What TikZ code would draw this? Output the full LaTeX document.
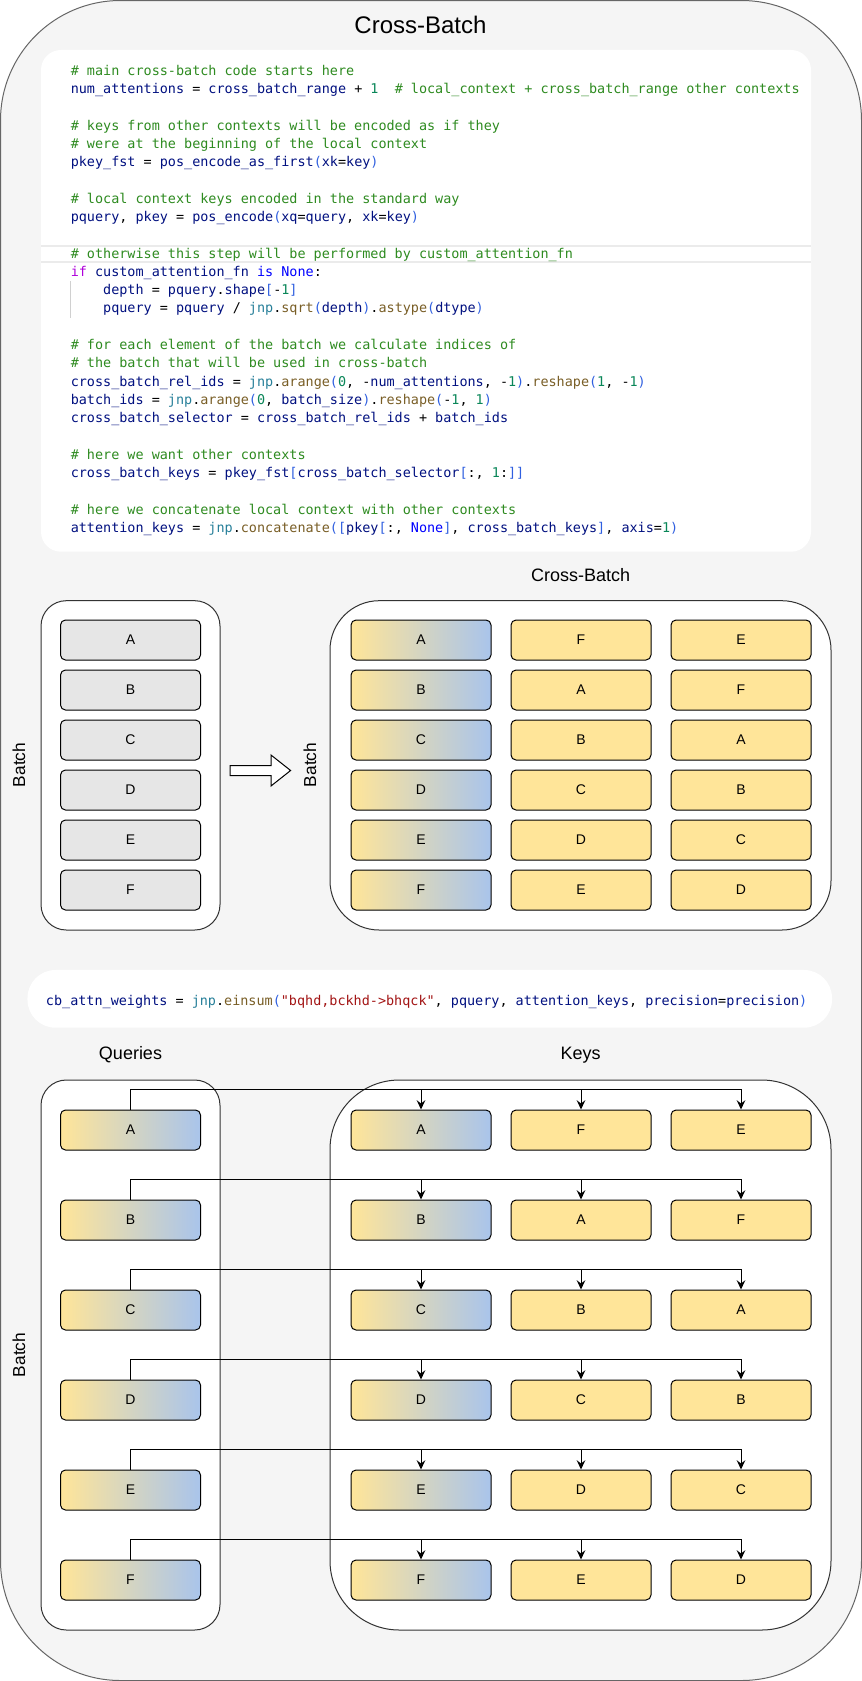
\documentclass[tikz,border=0pt]{standalone}
\usepackage{fontspec}
\setmainfont{Liberation Sans}
\setmonofont{DejaVu Sans Mono}
\usetikzlibrary{arrows.meta}
\definecolor{outerfill}{HTML}{F5F5F5}
\definecolor{outerdraw}{HTML}{666666}
\definecolor{contdraw}{HTML}{333333}
\definecolor{grayfill}{HTML}{E6E6E6}
\definecolor{yel}{HTML}{FFE599}
\definecolor{blu}{HTML}{A9C4EB}
\definecolor{cmt}{HTML}{2E8B20}
\definecolor{var}{HTML}{001080}
\definecolor{fun}{HTML}{795E26}
\definecolor{num}{HTML}{098658}
\definecolor{kwd}{HTML}{AF00DB}
\definecolor{bltn}{HTML}{0000FF}
\definecolor{jnpc}{HTML}{267F99}
\definecolor{strc}{HTML}{A31515}
\definecolor{brk}{HTML}{2F5FE0}
\definecolor{bandc}{HTML}{EBEBEB}
\definecolor{guidec}{HTML}{D0D0D0}
\newcommand\cC[1]{\textcolor{cmt}{#1}}
\newcommand\cV[1]{\textcolor{var}{#1}}
\newcommand\cF[1]{\textcolor{fun}{#1}}
\newcommand\cN[1]{\textcolor{num}{#1}}
\newcommand\cK[1]{\textcolor{kwd}{#1}}
\newcommand\cB[1]{\textcolor{bltn}{#1}}
\newcommand\cJ[1]{\textcolor{jnpc}{#1}}
\newcommand\cS[1]{\textcolor{strc}{#1}}
\newcommand\cP[1]{\textcolor{brk}{#1}}
\tikzset{
  item/.style={draw=black, line width=0.75pt, rounded corners=3.75pt,
    minimum width=105pt, minimum height=30pt, inner sep=0pt,
    font=\fontsize{10.5}{12}\selectfont},
  grayitem/.style={item, fill=grayfill},
  yitem/.style={item, fill=yel},
  gitem/.style={item, left color=yel, right color=blu},
  cont/.style={draw=contdraw, fill=white, line width=0.75pt, inner sep=0pt},
  lbl/.style={inner sep=0pt, font=\fontsize{13.5}{16}\selectfont},
  batchlbl/.style={inner sep=0pt, rotate=90, font=\fontsize{13}{15}\selectfont},
  codeline/.style={anchor=base west, inner sep=0pt, font=\ttfamily\fontsize{10.09}{12}\selectfont},
  arr/.style={draw=black, line width=0.75pt, -{Stealth[length=7pt,width=6.5pt,inset=2.5pt]}},
  codebox/.style={fill=white, draw=none, inner sep=0pt}
}
\begin{document}
\begin{tikzpicture}[x=0.75pt,y=-0.75pt]
\useasboundingbox (0,0) rectangle (862,1681);
% outer container
\draw[fill=outerfill, draw=outerdraw, line width=0.75pt, rounded corners=90pt] (0.5,0.5) rectangle (861.5,1680.5);
\node[inner sep=0pt, font=\fontsize{18}{21}\selectfont] (title) at (420.5,25) {Cross-Batch};

% code box
\node[codebox, rounded corners=15pt, minimum width=577.5pt, minimum height=376.3pt] (code) at (426,300.85) {};
\draw[bandc, line width=1.5pt] (41,246) -- (811,246);
\draw[bandc, line width=1.5pt] (41,261.5) -- (811,261.5);
\draw[guidec, line width=0.75pt] (70.5,281) -- (70.5,318);

\node[codeline] (c1) at (70.5,75) {\cC{\# main cross-batch code starts here}};
\node[codeline] (c2) at (70.5,93.3) {\cV{num\_attentions} = \cV{cross\_batch\_range} + \cN{1}\ \ \cC{\# local\_context + cross\_batch\_range other contexts}};
\node[codeline] (c4) at (70.5,130) {\cC{\# keys from other contexts will be encoded as if they}};
\node[codeline] (c5) at (70.5,148.3) {\cC{\# were at the beginning of the local context}};
\node[codeline] (c6) at (70.5,166.6) {\cV{pkey\_fst} = \cV{pos\_encode\_as\_first}\cP{(}\cV{xk}=\cV{key}\cP{)}};
\node[codeline] (c8) at (70.5,203.2) {\cC{\# local context keys encoded in the standard way}};
\node[codeline] (c9) at (70.5,221.5) {\cV{pquery}, \cV{pkey} = \cV{pos\_encode}\cP{(}\cV{xq}=\cV{query}, \cV{xk}=\cV{key}\cP{)}};
\node[codeline] (c11) at (70.5,258) {\cC{\# otherwise this step will be performed by custom\_attention\_fn}};
\node[codeline] (c12) at (70.5,276.3) {\cK{if} \cV{custom\_attention\_fn} \cB{is} \cB{None}:};
\node[codeline] (c13) at (102.9,294.6) {\cV{depth} = \cV{pquery}.\cV{shape}\cP{[}-\cN{1}\cP{]}};
\node[codeline] (c14) at (102.9,312.9) {\cV{pquery} = \cV{pquery} / \cJ{jnp}.\cF{sqrt}\cP{(}\cV{depth}\cP{)}.\cF{astype}\cP{(}\cV{dtype}\cP{)}};
\node[codeline] (c16) at (70.5,349.5) {\cC{\# for each element of the batch we calculate indices of}};
\node[codeline] (c17) at (70.5,367.8) {\cC{\# the batch that will be used in cross-batch}};
\node[codeline] (c18) at (70.5,386.1) {\cV{cross\_batch\_rel\_ids} = \cJ{jnp}.\cF{arange}\cP{(}\cN{0}, -\cV{num\_attentions}, -\cN{1}\cP{)}.\cF{reshape}\cP{(}\cN{1}, -\cN{1}\cP{)}};
\node[codeline] (c19) at (70.5,404.4) {\cV{batch\_ids} = \cJ{jnp}.\cF{arange}\cP{(}\cN{0}, \cV{batch\_size}\cP{)}.\cF{reshape}\cP{(}-\cN{1}, \cN{1}\cP{)}};
\node[codeline] (c20) at (70.5,422.7) {\cV{cross\_batch\_selector} = \cV{cross\_batch\_rel\_ids} + \cV{batch\_ids}};
\node[codeline] (c22) at (70.5,459.3) {\cC{\# here we want other contexts}};
\node[codeline] (c23) at (70.5,477.6) {\cV{cross\_batch\_keys} = \cV{pkey\_fst}\cP{[}\cV{cross\_batch\_selector}\cP{[}:, \cN{1}:\cP{]}\cP{]}};
\node[codeline] (c25) at (70.5,514.2) {\cC{\# here we concatenate local context with other contexts}};
\node[codeline] (c26) at (70.5,532.5) {\cV{attention\_keys} = \cJ{jnp}.\cF{concatenate}\cP{(}\cP{[}\cV{pkey}\cP{[}:, \cB{None}\cP{]}, \cV{cross\_batch\_keys}\cP{]}, \cV{axis}=\cN{1}\cP{)}};

% top section
\node[lbl] (cblbl) at (580.7,575) {Cross-Batch};
\node[cont, rounded corners=19pt, minimum width=134.25pt, minimum height=247pt] (lcont) at (130.5,765.35) {};
\node[cont, rounded corners=37pt, minimum width=375.75pt, minimum height=247pt] (rcont) at (580.5,765.35) {};
\node[batchlbl] (b1) at (19,765) {Batch};
\node[batchlbl] (b2) at (310,765) {Batch};
\draw[fill=white, draw=black, line width=0.75pt] (230,765.7) -- (271,765.7) -- (271,755) -- (290.6,770.5) -- (271,786) -- (271,775.7) -- (230,775.7) -- cycle;
\foreach \L/\M/\N [count=\i] in {A/F/E, B/A/F, C/B/A, D/C/B, E/D/C, F/E/D} {
  \node[grayitem] (l\i) at (130.5,590+50*\i) {\L};
  \node[gitem] (r\i a) at (421,590+50*\i) {\L};
  \node[yitem] (r\i b) at (581,590+50*\i) {\M};
  \node[yitem] (r\i c) at (741,590+50*\i) {\N};
}

% einsum box
\node[codebox, rounded corners=21pt, minimum width=603.4pt, minimum height=43.3pt] (ebox) at (429.75,998.85) {};
\node[codeline] (ecode) at (45.7,1005.7) {\cV{cb\_attn\_weights} = \cJ{jnp}.\cF{einsum}\cP{(}\cS{"bqhd,bckhd->bhqck"}, \cV{pquery}, \cV{attention\_keys}, \cV{precision}=\cV{precision}\cP{)}};

% bottom section
\node[lbl] (qlbl) at (130.5,1055) {Queries};
\node[lbl] (klbl) at (580.7,1055) {Keys};
\node[cont, rounded corners=19pt, minimum width=134.25pt, minimum height=412.5pt] (qcont) at (130.5,1355) {};
\node[cont, rounded corners=52pt, minimum width=375.75pt, minimum height=412.5pt] (kcont) at (580.5,1355) {};
\node[batchlbl] (b3) at (19,1355) {Batch};
\foreach \L/\M/\N [count=\i] in {A/F/E, B/A/F, C/B/A, D/C/B, E/D/C, F/E/D} {
  \node[gitem] (q\i) at (130.5,1040+90*\i) {\L};
  \node[gitem] (k\i a) at (421,1040+90*\i) {\L};
  \node[yitem] (k\i b) at (581,1040+90*\i) {\M};
  \node[yitem] (k\i c) at (741,1040+90*\i) {\N};
  \draw[arr] (q\i.north) |- ([yshift=14.7pt]k\i c.north) -- (k\i c.north);
  \draw[arr] ([yshift=14.7pt]k\i a.north) -- (k\i a.north);
  \draw[arr] ([yshift=14.7pt]k\i b.north) -- (k\i b.north);
}
\end{tikzpicture}
\end{document}
